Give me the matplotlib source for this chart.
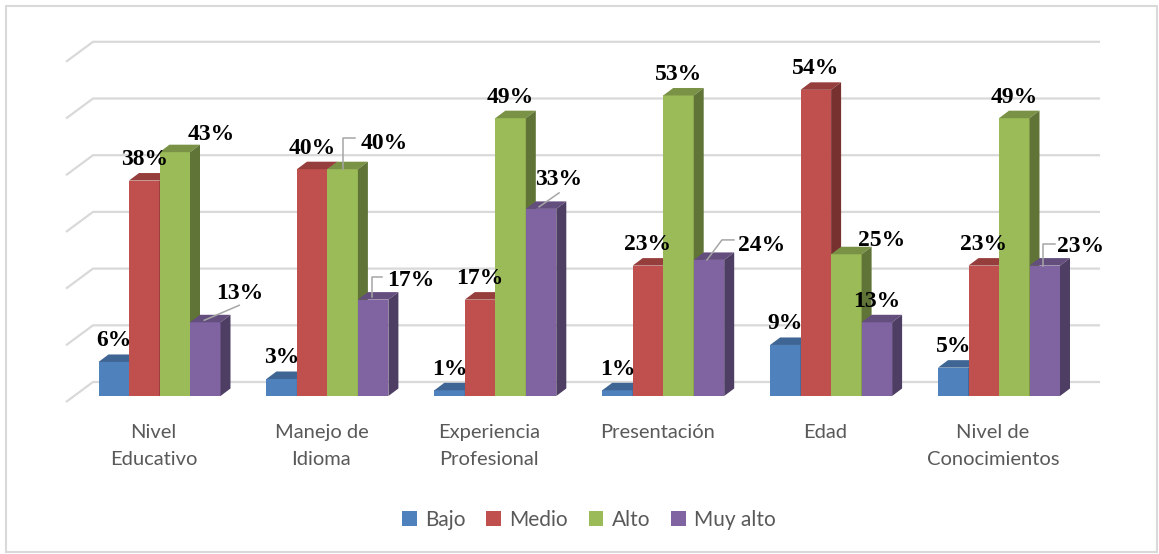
import numpy as np
import matplotlib
matplotlib.use("Agg")
import matplotlib.pyplot as plt
from matplotlib.patches import Rectangle, Patch

# data
categories = ["Nivel\nEducativo", "Manejo de\nIdioma", "Experiencia\nProfesional",
              "Presentación", "Edad", "Nivel de\nConocimientos"]
series = ["Bajo", "Medio", "Alto", "Muy alto"]
bajo = [6, 3, 1, 1, 9, 5]
medio = [38, 40, 17, 23, 54, 23]
alto = [43, 40, 49, 53, 25, 49]
muy_alto = [13, 17, 33, 24, 13, 23]
values = [bajo, medio, alto, muy_alto]
gridlines = [0, 10, 20, 30, 40, 50, 60]

# styling
colors = ["#4F81BD", "#C0504D", "#9BBB59", "#8064A2"]
W, H = 1159, 554
PX_X = 167.9          # pixels per category
PX_Y = 5.67           # pixels per percent
bar_w = 30.5 / PX_X
depth_x = 10 / PX_X
depth_y = 7.5 / PX_Y
wall_dy = 14 / PX_Y
wall_left = -66.5 / PX_X
wall_right = 940.5 / PX_X
side_dx = -27 / PX_X
side_dy = -20 / PX_Y

# label offsets (pixels, y down) relative to default spot above the bar
label_shift = {(2, 0): (37, 3), (3, 0): (34, -8), (2, 1): (42, -5),
               (3, 1): (38, 2), (3, 2): (18, -8), (3, 3): (53, 7),
               (2, 4): (35, 7), (3, 5): (36, 2)}
# leader lines (pixel points relative to the bar top centre, y down)
leaders = {(3, 0): [(-1, -2), (34, -17)],
           (2, 1): [(0, 0), (0, -31), (12, -31)],
           (3, 1): [(-1, -3), (-1, -23), (9, -23)],
           (3, 2): [(-2, -2), (18, -16)],
           (3, 3): [(-2, 0), (13, -20), (25, -20)],
           (3, 5): [(-2, 0), (-2, -22), (10, -22)]}


def shade(c, f):
    r, g, b = matplotlib.colors.to_rgb(c)
    return (r * f, g * f, b * f)


fig = plt.figure(figsize=(W / 100, H / 100), dpi=100)
ax = fig.add_axes([0, 0, 1, 1])
ax.set_xlim(-159.5 / PX_X, (W - 159.5) / PX_X)
ax.set_ylim(-(H - 396) / PX_Y, 396 / PX_Y)
ax.axis("off")

# back wall gridlines + side wall diagonals
for g in gridlines:
    yb = g + wall_dy
    ax.plot([wall_left + side_dx, wall_left, wall_right], [yb + side_dy, yb, yb],
            color="#D9D9D9", lw=1.6, solid_capstyle="butt", zorder=1)

x = np.arange(len(categories))
for i in range(len(categories)):
    for j in range(len(series)):
        xc = x[i] + (j - 1.5) * bar_w
        v = values[j][i]
        x0, x1 = xc - bar_w / 2, xc + bar_w / 2
        z = 2 + j * 0.1 + i
        ax.bar(xc, v, width=bar_w, color=colors[j], edgecolor="none", zorder=z)
        ax.fill([x0, x1, x1 + depth_x, x0 + depth_x], [v, v, v + depth_y, v + depth_y],
                color=shade(colors[j], 0.78), lw=0, zorder=z)
        ax.fill([x1, x1 + depth_x, x1 + depth_x, x1], [0, depth_y, v + depth_y, v],
                color=shade(colors[j], 0.62), lw=0, zorder=z)

        dx, dy = label_shift.get((j, i), (0, 0))
        ax.annotate(f"{v}%", (xc, v), xytext=(dx, 21 - dy), textcoords="offset pixels",
                    ha="center", va="center", fontsize=17, fontweight="bold",
                    family="Liberation Serif", color="black", zorder=20)
        if (j, i) in leaders:
            pts = leaders[(j, i)]
            ax.plot([xc + p[0] / PX_X for p in pts], [v - p[1] / PX_Y for p in pts],
                    color="#A6A6A6", lw=1.1, zorder=19)

# category labels
for i, c in enumerate(categories):
    ax.text(x[i] - 6 / PX_X, -28 / PX_Y, c, ha="center", va="top", fontsize=14.5,
            family="Lato", color="#595959", linespacing=1.7)

handles = [Patch(facecolor=colors[j], edgecolor="none") for j in range(len(series))]
fig.legend(handles, series, loc="center", bbox_to_anchor=(589 / W, 1 - 520 / H), ncol=4,
           frameon=False, prop={"family": "Lato", "size": 15}, labelcolor="#595959",
           handlelength=0.7, handleheight=0.7, handletextpad=0.4, columnspacing=1.0)

fig.patches.append(Rectangle((5.5 / W, 2 / H), (1157 - 5.5) / W, (552 - 5.5) / H,
                             transform=fig.transFigure, fill=False,
                             edgecolor="#D9D9D9", lw=1.5))

fig.savefig("out.png", dpi=100)
